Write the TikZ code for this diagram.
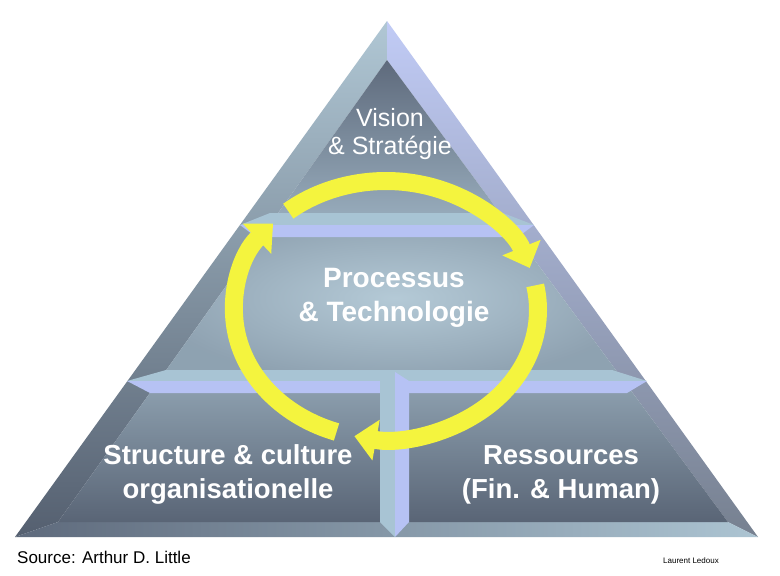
\documentclass[tikz,border=0pt]{standalone}
\usepackage{fontspec}
\setmainfont{Liberation Sans}
\usetikzlibrary{arrows.meta}

\definecolor{ringyellow}{RGB}{244,244,62}
\definecolor{barlight}{RGB}{168,196,212}
\definecolor{barlilac}{RGB}{182,194,244}
\definecolor{slatedark}{RGB}{94,106,124}
\definecolor{slatemid}{RGB}{150,170,186}
\definecolor{slatelight}{RGB}{172,196,210}

\tikzset{
  blocklabel/.style={text=white, align=center, inner sep=0pt},
  ring/.style={ringyellow, line width=18pt, line cap=butt,
               -{Triangle[width=40pt,length=22pt]}},
}

\begin{document}
\begin{tikzpicture}[x=1pt,y=-1pt]
  \useasboundingbox[fill=white] (0,0) rectangle (780,576);

  % outer and inner corners of the pyramid
  \coordinate (A)  at (387,21);
  \coordinate (BL) at (15,537);
  \coordinate (BR) at (758,537);
  \coordinate (a)  at (387,60);
  \coordinate (bl) at (58,522);
  \coordinate (br) at (728,522);

  % bevel
  \shade[top color=slatelight!95!white, bottom color=slatedark!90!black]
    (A) -- (a) -- (bl) -- (BL) -- cycle;
  \shade[top color=barlilac!85!white, bottom color=slatedark!85!white]
    (A) -- (BR) -- (br) -- (a) -- cycle;
  \shade[left color=slatedark, right color=slatelight]
    (BL) -- (bl) -- (br) -- (BR) -- cycle;

  % faces
  \begin{scope}
    \clip (a) -- (bl) -- (br) -- cycle;
    \shade[top color=slatedark, bottom color=slatemid] (0,60) rectangle (780,214);
    \shade[inner color=slatelight!90!white, outer color=slatemid!95!black]
      (150,214) rectangle (640,382);
    \shade[top color=slatemid!95!black, bottom color=slatedark!95!black]
      (0,381) rectangle (780,522);
  \end{scope}

  % separators
  \fill[barlight] (240,225) -- (270,213) -- (503,213) -- (534,225) -- cycle;
  \fill[barlilac] (240,225) -- (534,225) -- (518,237) -- (256,237) -- cycle;
  \fill[barlight] (127,381) -- (166,370) -- (612,370) -- (647,381) -- cycle;
  \fill[barlilac] (127,381) -- (647,381) -- (627,393) -- (150,393) -- cycle;
  \fill[barlight] (380,381) -- (395,372) -- (395,537) -- (380,522) -- cycle;
  \fill[barlilac] (395,372) -- (409,381) -- (409,522) -- (395,537) -- cycle;

  % cycle of arrows
  \coordinate (ringc) at (386,310);
  \draw[ring] (ringc) ++(-130:152 and 129)
    arc[start angle=-130, end angle=-19, x radius=152, y radius=129];
  \draw[ring] (ringc) ++(-11:152 and 129)
    arc[start angle=-11, end angle=102, x radius=152, y radius=129];
  \draw[ring] (ringc) ++(109:152 and 129)
    arc[start angle=109, end angle=222, x radius=152, y radius=129];

  \node[blocklabel, font=\fontsize{25}{28}\selectfont] (vision) at (390,134)
    {Vision\\\& Stratégie};
  \node[blocklabel, font=\bfseries\fontsize{28}{34}\selectfont] (process) at (394,298)
    {Processus\\\& Technologie};
  \node[blocklabel, font=\bfseries\fontsize{27.5}{34}\selectfont] (structure) at (228,474)
    {Structure \& culture\\organisationelle};
  \node[blocklabel, font=\bfseries\fontsize{27.5}{34}\selectfont] (resources) at (561,475)
    {Ressources\\(Fin. \& Human)};

  \node[anchor=base west, inner sep=0pt, font=\fontsize{17}{20}\selectfont] (source)
    at (17,563) {Source: Arthur D. Little};
  \node[anchor=base west, inner sep=0pt, font=\fontsize{8}{10}\selectfont] (author)
    at (663,563) {Laurent Ledoux};
\end{tikzpicture}
\end{document}
